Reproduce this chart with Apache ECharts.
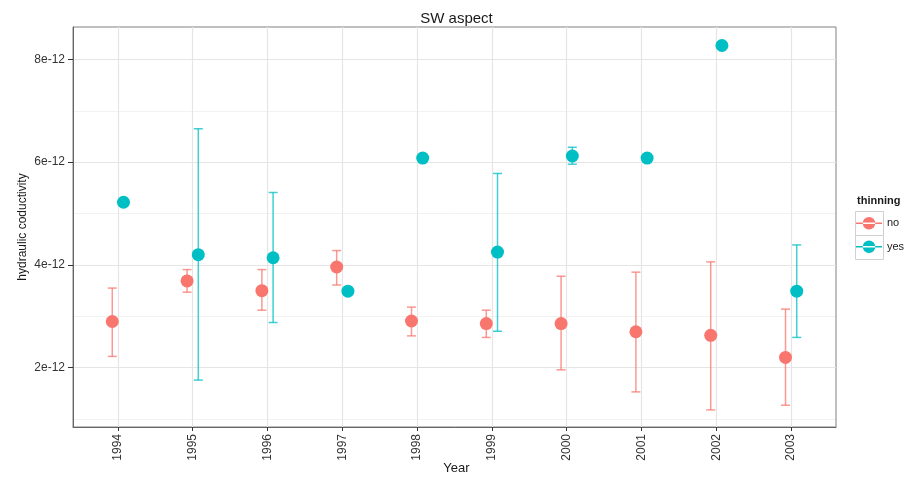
<!DOCTYPE html>
<html>
<head>
<meta charset="utf-8">
<script src="https://cdn.jsdelivr.net/npm/echarts@6/dist/echarts.min.js"></script>
<style>
  html, body { margin: 0; padding: 0; background: #fff; }
  #main { width: 913px; height: 478px; }
</style>
</head>
<body>
<div id="main"></div>
<script>
// values in units of 1e-12
var years = ['1994', '1995', '1996', '1997', '1998', '1999', '2000', '2001', '2002', '2003'];
var noMean = [2.90, 3.69, 3.50, 3.96, 2.91, 2.86, 2.86, 2.70, 2.63, 2.20];
var noLow  = [2.22, 3.47, 3.12, 3.61, 2.62, 2.59, 1.96, 1.53, 1.18, 1.27];
var noHigh = [3.55, 3.91, 3.91, 4.28, 3.18, 3.12, 3.78, 3.86, 4.06, 3.14];
var yesMean = [5.22, 4.20, 4.14, 3.49, 6.08, 4.25, 6.12, 6.08, 8.27, 3.49];
var yesLow  = [null, 1.76, 2.88, null, null, 2.71, 5.96, null, null, 2.59];
var yesHigh = [null, 6.65, 5.41, null, null, 5.78, 6.29, null, null, 4.39];
var yTicks = [2, 4, 6, 8];
var yMinor = [1, 3, 5, 7];

var dodge = 0.075;
var red = '#F8766D';
var cyan = '#00BFC4';

function points(means, off) {
  return means.map(function (v, i) { return [i + off, v]; });
}
function bars(lows, highs, off) {
  var out = [];
  lows.forEach(function (lo, i) {
    if (lo != null) out.push([i + off, lo, highs[i]]);
  });
  return out;
}

function errorBar(color) {
  return function (params, api) {
    var x = api.value(0);
    var lo = api.coord([x, api.value(1)]);
    var hi = api.coord([x, api.value(2)]);
    var w = 4.5;
    var style = { stroke: color, lineWidth: 1.5, opacity: 0.75 };
    return {
      type: 'group',
      children: [
        { type: 'line', shape: { x1: lo[0], y1: lo[1], x2: hi[0], y2: hi[1] }, style: style },
        { type: 'line', shape: { x1: lo[0] - w, y1: lo[1], x2: lo[0] + w, y2: lo[1] }, style: style },
        { type: 'line', shape: { x1: hi[0] - w, y1: hi[1], x2: hi[0] + w, y2: hi[1] }, style: style }
      ]
    };
  };
}

var keyIcon = 'path://M0,6.1h27v1.4H0z M7,6.8a6.5,6.5 0 1,0 13,0a6.5,6.5 0 1,0 -13,0z';

var myChart = echarts.init(document.getElementById('main'));
var option = {
  textStyle: { fontFamily: 'Liberation Sans, Arial, sans-serif' },
  animation: false,
  title: [
    {
      text: 'SW aspect',
      left: 'center',
      top: 6,
      textStyle: { fontSize: 15, fontWeight: 'normal', color: '#1a1a1a' }
    },
    {
      text: 'thinning',
      left: 852,
      top: 190,
      textStyle: { fontSize: 11, fontWeight: 'bold', color: '#1a1a1a' }
    },
    {
      // x-axis title
      text: 'Year',
      left: 'center',
      top: 457,
      textStyle: { fontSize: 13, fontWeight: 'normal', color: '#1a1a1a' }
    }
  ],
  graphic: [
    { type: 'rect', left: 855, top: 211, shape: { width: 28, height: 24 },
      style: { fill: '#fff', stroke: '#d0d0d0', lineWidth: 1 }, z: 0 },
    { type: 'rect', left: 855, top: 235, shape: { width: 28, height: 24 },
      style: { fill: '#fff', stroke: '#d0d0d0', lineWidth: 1 }, z: 0 }
  ],
  legend: {
    orient: 'vertical',
    left: 856,
    top: 217,
    padding: 0,
    itemWidth: 26,
    itemHeight: 13,
    itemGap: 11,
    textStyle: { fontSize: 11, color: '#1a1a1a', padding: [0, 0, 0, 0] },
    data: [
      { name: 'no', icon: keyIcon, itemStyle: { color: red } },
      { name: 'yes', icon: keyIcon, itemStyle: { color: cyan } }
    ],
    z: 5
  },
  grid: {
    left: 73,
    right: 77,
    top: 27,
    bottom: 51,
    outerBoundsMode: 'none',
    containLabel: false,
    show: true,
    borderColor: '#808080',
    borderWidth: 1
  },
  xAxis: {
    type: 'value',
    min: -0.6,
    max: 9.6,
    axisLine: { show: true, onZero: false, lineStyle: { color: '#666' } },
    axisTick: { show: true, length: 4, lineStyle: { color: '#333' }, customValues: [0, 1, 2, 3, 4, 5, 6, 7, 8, 9] },
    axisLabel: {
      rotate: 90,
      fontSize: 12,
      color: '#333',
      margin: 7,
      customValues: [0, 1, 2, 3, 4, 5, 6, 7, 8, 9],
      formatter: function (v) { return years[Math.round(v)]; }
    },
    splitLine: { show: true, lineStyle: { color: '#e5e5e5', width: 1.2 } },
    z: 2
  },
  yAxis: {
    type: 'value',
    min: 0.847,
    max: 8.63,
    name: 'hydraulic coductivity',
    nameLocation: 'middle',
    nameMoveOverlap: false,
    nameGap: 44,
    nameRotate: 90,
    nameTextStyle: { fontSize: 12, color: '#1a1a1a' },
    axisLine: { show: true, onZero: false, lineStyle: { color: '#666' } },
    axisTick: { show: true, length: 5, lineStyle: { color: '#333' }, customValues: yTicks },
    axisLabel: {
      fontSize: 12,
      color: '#333',
      margin: 8,
      customValues: yTicks,
      formatter: function (v) { return Math.round(v) + 'e-12'; }
    },
    splitLine: { show: true, lineStyle: { color: '#e5e5e5', width: 1.2 } },
    z: 2
  },
  series: [
    {
      name: 'minor grid',
      type: 'line',
      data: [],
      silent: true,
      markLine: {
        silent: true,
        z: -1,
        symbol: 'none',
        label: { show: false },
        lineStyle: { color: '#f2f2f2', type: 'solid', width: 1 },
        data: yMinor.map(function (v) { return { yAxis: v }; })
      },
      z: -1
    },
    {
      name: 'no',
      type: 'custom',
      renderItem: errorBar(red),
      data: bars(noLow, noHigh, -dodge),
      z: 3
    },
    {
      name: 'yes',
      type: 'custom',
      renderItem: errorBar(cyan),
      data: bars(yesLow, yesHigh, dodge),
      z: 3
    },
    {
      name: 'no',
      type: 'scatter',
      symbolSize: 13,
      itemStyle: { color: red, opacity: 1 },
      data: points(noMean, -dodge),
      z: 4
    },
    {
      name: 'yes',
      type: 'scatter',
      symbolSize: 13,
      itemStyle: { color: cyan, opacity: 1 },
      data: points(yesMean, dodge),
      z: 4
    }
  ]
};
myChart.setOption(option);
</script>
</body>
</html>
